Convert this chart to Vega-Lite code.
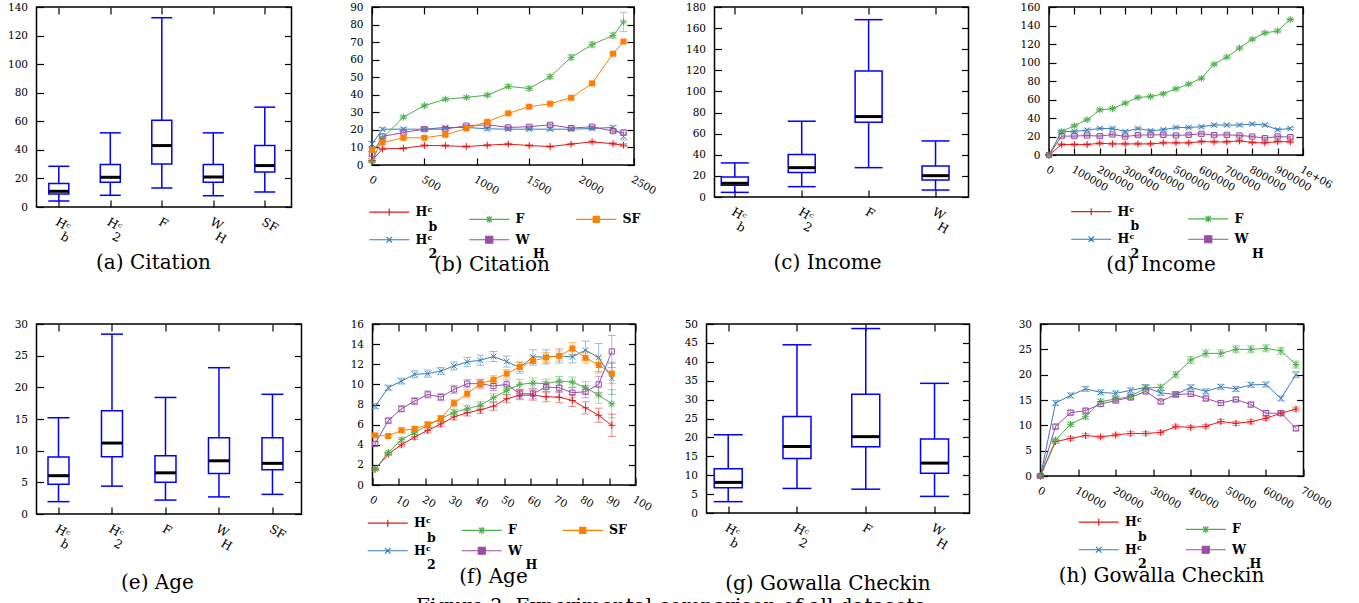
{
"$schema": "https://vega.github.io/schema/vega-lite/v6.json",
"background": "white",
"padding": {"left": 6.5, "top": 1, "right": 0, "bottom": -11},
"config": {
 "font": "DejaVu Serif",
 "view": {"stroke": "black", "strokeWidth": 1.5},
 "axis": {"domain": false, "grid": false, "ticks": true, "tickSize": -7, "tickColor": "black", "tickWidth": 1.2, "labelFont": "DejaVu Serif", "labelFontSize": 10.5, "labelColor": "black", "labelPadding": 16, "labelOverlap": false, "labelFlush": false, "labelBound": false},
 "legend": {"padding": 0},
 "title": {"font": "DejaVu Serif", "fontSize": 20, "fontWeight": "normal", "color": "black"}
},
"title": {"text": "Figure 3: Experimental comparison of all datasets", "orient": "bottom", "offset": 2, "anchor": "middle"},
"datasets": {
 "a": [
  {"m":"Hbc","lo":4.2,"q1":9.1,"md":11,"q3":16.4,"hi":28.5},
  {"m":"H2c","lo":8.2,"q1":17.3,"md":20.8,"q3":29.7,"hi":51.9},
  {"m":"F","lo":13.3,"q1":30.1,"md":43,"q3":60.8,"hi":132.5},
  {"m":"WH","lo":7.9,"q1":17.3,"md":21,"q3":29.7,"hi":51.9},
  {"m":"SF","lo":10.5,"q1":24.5,"md":29,"q3":43,"hi":69.9}
 ],
 "c": [
  {"m":"Hbc","lo":4.4,"q1":11.1,"md":13,"q3":19,"hi":32.3},
  {"m":"H2c","lo":9.8,"q1":23.1,"md":27.8,"q3":40.2,"hi":71.8},
  {"m":"F","lo":27.8,"q1":70.9,"md":76.2,"q3":119.3,"hi":168},
  {"m":"WH","lo":6.6,"q1":16.1,"md":20.2,"q3":29.4,"hi":53.1}
 ],
 "e": [
  {"m":"Hbc","lo":1.95,"q1":4.7,"md":6.05,"q3":9,"hi":15.2},
  {"m":"H2c","lo":4.4,"q1":9.05,"md":11.2,"q3":16.3,"hi":28.4},
  {"m":"F","lo":2.2,"q1":5,"md":6.5,"q3":9.2,"hi":18.4},
  {"m":"WH","lo":2.7,"q1":6.4,"md":8.4,"q3":12.05,"hi":23.1},
  {"m":"SF","lo":3.1,"q1":7,"md":8,"q3":12.05,"hi":18.9}
 ],
 "g": [
  {"m":"Hbc","lo":3,"q1":6.7,"md":8.1,"q3":11.7,"hi":20.7},
  {"m":"H2c","lo":6.5,"q1":14.4,"md":17.6,"q3":25.5,"hi":44.5},
  {"m":"F","lo":6.3,"q1":17.5,"md":20.2,"q3":31.4,"hi":48.8},
  {"m":"WH","lo":4.4,"q1":10.5,"md":13.2,"q3":19.6,"hi":34.3}
 ],
 "b": [
  {"s":"Hbc","x":0,"y":2.6,"e":1},{"s":"Hbc","x":100,"y":9.2,"e":0.5},{"s":"Hbc","x":300,"y":9.5,"e":0.5},{"s":"Hbc","x":500,"y":11.1,"e":0.5},{"s":"Hbc","x":700,"y":11,"e":0.5},{"s":"Hbc","x":900,"y":10.5,"e":0.5},{"s":"Hbc","x":1100,"y":11.3,"e":0.5},{"s":"Hbc","x":1300,"y":11.9,"e":0.5},{"s":"Hbc","x":1500,"y":11.1,"e":0.5},{"s":"Hbc","x":1700,"y":10.5,"e":0.5},{"s":"Hbc","x":1900,"y":11.9,"e":0.5},{"s":"Hbc","x":2100,"y":13.2,"e":0.6},{"s":"Hbc","x":2300,"y":12.1,"e":0.6},{"s":"Hbc","x":2400,"y":11.3,"e":0.8},
  {"s":"H2c","x":0,"y":11.9,"e":1.5},{"s":"H2c","x":100,"y":20.4,"e":0.8},{"s":"H2c","x":300,"y":20.4,"e":0.8},{"s":"H2c","x":500,"y":20.4,"e":0.8},{"s":"H2c","x":700,"y":21.4,"e":0.8},{"s":"H2c","x":900,"y":21.4,"e":0.8},{"s":"H2c","x":1100,"y":20.6,"e":0.8},{"s":"H2c","x":1300,"y":20.4,"e":0.8},{"s":"H2c","x":1500,"y":20.4,"e":0.8},{"s":"H2c","x":1700,"y":20.4,"e":0.8},{"s":"H2c","x":1900,"y":20.4,"e":0.8},{"s":"H2c","x":2100,"y":20.8,"e":0.8},{"s":"H2c","x":2300,"y":21.4,"e":0.9},{"s":"H2c","x":2400,"y":16.3,"e":2},
  {"s":"F","x":0,"y":2,"e":0.5},{"s":"F","x":100,"y":15.3,"e":1},{"s":"F","x":300,"y":27.3,"e":0.8},{"s":"F","x":500,"y":33.8,"e":0.8},{"s":"F","x":700,"y":37.5,"e":0.8},{"s":"F","x":900,"y":38.5,"e":0.8},{"s":"F","x":1100,"y":39.8,"e":0.8},{"s":"F","x":1300,"y":44.8,"e":1},{"s":"F","x":1500,"y":43.6,"e":1.2},{"s":"F","x":1700,"y":50.3,"e":1.3},{"s":"F","x":1900,"y":61.3,"e":1.5},{"s":"F","x":2100,"y":68.6,"e":1.5},{"s":"F","x":2300,"y":73.8,"e":1.5},{"s":"F","x":2400,"y":81.5,"e":5.5},
  {"s":"WH","x":0,"y":6.4,"e":1.3},{"s":"WH","x":100,"y":16.3,"e":1},{"s":"WH","x":300,"y":18.5,"e":0.8},{"s":"WH","x":500,"y":20.4,"e":0.8},{"s":"WH","x":700,"y":20.4,"e":0.8},{"s":"WH","x":900,"y":22.4,"e":0.8},{"s":"WH","x":1100,"y":22.9,"e":0.8},{"s":"WH","x":1300,"y":21.4,"e":0.8},{"s":"WH","x":1500,"y":21.8,"e":0.8},{"s":"WH","x":1700,"y":22.9,"e":0.8},{"s":"WH","x":1900,"y":21,"e":0.8},{"s":"WH","x":2100,"y":21.8,"e":0.8},{"s":"WH","x":2300,"y":19.3,"e":0.8},{"s":"WH","x":2400,"y":18.5,"e":1.5},
  {"s":"SF","x":0,"y":8.7,"e":1.3},{"s":"SF","x":100,"y":12.8,"e":0.8},{"s":"SF","x":300,"y":15.5,"e":0.6},{"s":"SF","x":500,"y":15.5,"e":0.6},{"s":"SF","x":700,"y":17.2,"e":0.6},{"s":"SF","x":900,"y":20.8,"e":0.6},{"s":"SF","x":1100,"y":24.6,"e":0.6},{"s":"SF","x":1300,"y":29.4,"e":0.6},{"s":"SF","x":1500,"y":33.2,"e":0.6},{"s":"SF","x":1700,"y":34.9,"e":0.6},{"s":"SF","x":1900,"y":38.3,"e":0.6},{"s":"SF","x":2100,"y":46.5,"e":0.8},{"s":"SF","x":2300,"y":63.4,"e":0.8},{"s":"SF","x":2400,"y":70.3,"e":0.8}
 ],
 "d": [
  {"s":"Hbc","x":0,"y":0,"e":0.5},{"s":"Hbc","x":50000,"y":11.3,"e":1.2},{"s":"Hbc","x":100000,"y":11.3,"e":1.2},{"s":"Hbc","x":150000,"y":11.3,"e":1.2},{"s":"Hbc","x":200000,"y":12.7,"e":1.2},{"s":"Hbc","x":250000,"y":12,"e":1.2},{"s":"Hbc","x":300000,"y":12,"e":1.2},{"s":"Hbc","x":350000,"y":12,"e":1.2},{"s":"Hbc","x":400000,"y":12,"e":1.2},{"s":"Hbc","x":450000,"y":13.1,"e":1.2},{"s":"Hbc","x":500000,"y":13.1,"e":1.2},{"s":"Hbc","x":550000,"y":13.1,"e":1.2},{"s":"Hbc","x":600000,"y":14.5,"e":1.2},{"s":"Hbc","x":650000,"y":14.2,"e":1.2},{"s":"Hbc","x":700000,"y":14.2,"e":1.2},{"s":"Hbc","x":750000,"y":15.3,"e":1.2},{"s":"Hbc","x":800000,"y":13.5,"e":1.2},{"s":"Hbc","x":850000,"y":13.1,"e":1.2},{"s":"Hbc","x":900000,"y":14.5,"e":1.2},{"s":"Hbc","x":950000,"y":14.2,"e":1.2},
  {"s":"H2c","x":0,"y":0,"e":0.5},{"s":"H2c","x":50000,"y":25.4,"e":1.3},{"s":"H2c","x":100000,"y":25.4,"e":1.3},{"s":"H2c","x":150000,"y":26.9,"e":1.3},{"s":"H2c","x":200000,"y":28.7,"e":1.3},{"s":"H2c","x":250000,"y":28.7,"e":1.3},{"s":"H2c","x":300000,"y":25.4,"e":1.3},{"s":"H2c","x":350000,"y":28.7,"e":1.3},{"s":"H2c","x":400000,"y":26.2,"e":1.3},{"s":"H2c","x":450000,"y":27.3,"e":1.3},{"s":"H2c","x":500000,"y":29.8,"e":1.3},{"s":"H2c","x":550000,"y":29.8,"e":1.3},{"s":"H2c","x":600000,"y":30.5,"e":1.3},{"s":"H2c","x":650000,"y":32.4,"e":1.3},{"s":"H2c","x":700000,"y":32.4,"e":1.3},{"s":"H2c","x":750000,"y":32.4,"e":1.3},{"s":"H2c","x":800000,"y":33.5,"e":1.3},{"s":"H2c","x":850000,"y":32.4,"e":1.3},{"s":"H2c","x":900000,"y":27.3,"e":1.3},{"s":"H2c","x":950000,"y":28.7,"e":1.3},
  {"s":"F","x":0,"y":0,"e":0.5},{"s":"F","x":50000,"y":25.4,"e":1.3},{"s":"F","x":100000,"y":31.6,"e":1.3},{"s":"F","x":150000,"y":38.2,"e":1.3},{"s":"F","x":200000,"y":48.7,"e":1.3},{"s":"F","x":250000,"y":50.2,"e":1.3},{"s":"F","x":300000,"y":56,"e":1.3},{"s":"F","x":350000,"y":62.2,"e":1.3},{"s":"F","x":400000,"y":63.2,"e":1.3},{"s":"F","x":450000,"y":66.2,"e":1.3},{"s":"F","x":500000,"y":71.6,"e":1.3},{"s":"F","x":550000,"y":76.7,"e":1.3},{"s":"F","x":600000,"y":82.9,"e":1.3},{"s":"F","x":650000,"y":98.1,"e":1.3},{"s":"F","x":700000,"y":105.8,"e":1.3},{"s":"F","x":750000,"y":115.6,"e":1.3},{"s":"F","x":800000,"y":125.1,"e":1.3},{"s":"F","x":850000,"y":132,"e":1.3},{"s":"F","x":900000,"y":134.1,"e":1.3},{"s":"F","x":950000,"y":146.5,"e":1.3},
  {"s":"WH","x":0,"y":0,"e":0.5},{"s":"WH","x":50000,"y":20.4,"e":1.3},{"s":"WH","x":100000,"y":20.4,"e":1.3},{"s":"WH","x":150000,"y":21.1,"e":1.3},{"s":"WH","x":200000,"y":20.4,"e":1.3},{"s":"WH","x":250000,"y":22.2,"e":1.3},{"s":"WH","x":300000,"y":20,"e":1.3},{"s":"WH","x":350000,"y":21.5,"e":1.3},{"s":"WH","x":400000,"y":21.8,"e":1.3},{"s":"WH","x":450000,"y":21.8,"e":1.3},{"s":"WH","x":500000,"y":21.1,"e":1.3},{"s":"WH","x":550000,"y":21.8,"e":1.3},{"s":"WH","x":600000,"y":22.9,"e":1.3},{"s":"WH","x":650000,"y":21.5,"e":1.3},{"s":"WH","x":700000,"y":21.8,"e":1.3},{"s":"WH","x":750000,"y":21.1,"e":1.3},{"s":"WH","x":800000,"y":20,"e":1.3},{"s":"WH","x":850000,"y":18.2,"e":1.3},{"s":"WH","x":900000,"y":20,"e":1.3},{"s":"WH","x":950000,"y":19.3,"e":1.3}
 ],
 "f": [
  {"s":"Hbc","x":1,"y":1.57,"e":0.1},{"s":"Hbc","x":6,"y":3.07,"e":0.15},{"s":"Hbc","x":11,"y":4,"e":0.2},{"s":"Hbc","x":16,"y":4.77,"e":0.25},{"s":"Hbc","x":21,"y":5.43,"e":0.25},{"s":"Hbc","x":26,"y":6.07,"e":0.25},{"s":"Hbc","x":31,"y":6.77,"e":0.3},{"s":"Hbc","x":36,"y":7.17,"e":0.3},{"s":"Hbc","x":41,"y":7.47,"e":0.35},{"s":"Hbc","x":46,"y":7.83,"e":0.4},{"s":"Hbc","x":51,"y":8.57,"e":0.4},{"s":"Hbc","x":56,"y":8.93,"e":0.45},{"s":"Hbc","x":61,"y":8.93,"e":0.5},{"s":"Hbc","x":66,"y":8.77,"e":0.5},{"s":"Hbc","x":71,"y":8.73,"e":0.55},{"s":"Hbc","x":76,"y":8.4,"e":0.6},{"s":"Hbc","x":81,"y":7.67,"e":0.6},{"s":"Hbc","x":86,"y":6.93,"e":0.7},{"s":"Hbc","x":91,"y":5.93,"e":1.1},
  {"s":"H2c","x":1,"y":7.83,"e":0.25},{"s":"H2c","x":6,"y":9.67,"e":0.25},{"s":"H2c","x":11,"y":10.33,"e":0.3},{"s":"H2c","x":16,"y":11,"e":0.35},{"s":"H2c","x":21,"y":11.07,"e":0.35},{"s":"H2c","x":26,"y":11.33,"e":0.35},{"s":"H2c","x":31,"y":11.83,"e":0.4},{"s":"H2c","x":36,"y":12.23,"e":0.45},{"s":"H2c","x":41,"y":12.4,"e":0.5},{"s":"H2c","x":46,"y":12.77,"e":0.5},{"s":"H2c","x":51,"y":12.27,"e":0.55},{"s":"H2c","x":56,"y":11.67,"e":0.55},{"s":"H2c","x":61,"y":12.73,"e":0.7},{"s":"H2c","x":66,"y":12.73,"e":0.7},{"s":"H2c","x":71,"y":12.83,"e":0.7},{"s":"H2c","x":76,"y":12.73,"e":0.6},{"s":"H2c","x":81,"y":13.4,"e":0.9},{"s":"H2c","x":86,"y":12.67,"e":1.4},{"s":"H2c","x":91,"y":10.6,"e":1.6},
  {"s":"F","x":1,"y":1.57,"e":0.1},{"s":"F","x":6,"y":3.23,"e":0.15},{"s":"F","x":11,"y":4.5,"e":0.2},{"s":"F","x":16,"y":5.23,"e":0.25},{"s":"F","x":21,"y":5.93,"e":0.25},{"s":"F","x":26,"y":6.57,"e":0.3},{"s":"F","x":31,"y":7.23,"e":0.3},{"s":"F","x":36,"y":7.57,"e":0.35},{"s":"F","x":41,"y":7.93,"e":0.35},{"s":"F","x":46,"y":8.67,"e":0.4},{"s":"F","x":51,"y":9.4,"e":0.45},{"s":"F","x":56,"y":10,"e":0.5},{"s":"F","x":61,"y":10.13,"e":0.5},{"s":"F","x":66,"y":10.07,"e":0.45},{"s":"F","x":71,"y":10.33,"e":0.45},{"s":"F","x":76,"y":10.23,"e":0.5},{"s":"F","x":81,"y":9.67,"e":0.6},{"s":"F","x":86,"y":8.93,"e":0.8},{"s":"F","x":91,"y":8.07,"e":1.4},
  {"s":"WH","x":1,"y":4.1,"e":0.2},{"s":"WH","x":6,"y":6.4,"e":0.25},{"s":"WH","x":11,"y":7.57,"e":0.3},{"s":"WH","x":16,"y":8.33,"e":0.35},{"s":"WH","x":21,"y":9,"e":0.35},{"s":"WH","x":26,"y":8.73,"e":0.35},{"s":"WH","x":31,"y":9.5,"e":0.4},{"s":"WH","x":36,"y":10.07,"e":0.4},{"s":"WH","x":41,"y":10.07,"e":0.45},{"s":"WH","x":46,"y":9.83,"e":0.45},{"s":"WH","x":51,"y":10,"e":0.45},{"s":"WH","x":56,"y":9.07,"e":0.45},{"s":"WH","x":61,"y":9.07,"e":0.5},{"s":"WH","x":66,"y":9.73,"e":0.5},{"s":"WH","x":71,"y":9.67,"e":0.5},{"s":"WH","x":76,"y":9.17,"e":0.5},{"s":"WH","x":81,"y":9.27,"e":0.6},{"s":"WH","x":86,"y":10,"e":0.8},{"s":"WH","x":91,"y":13.27,"e":1.6},
  {"s":"SF","x":1,"y":4.93,"e":0.2},{"s":"SF","x":6,"y":4.87,"e":0.2},{"s":"SF","x":11,"y":5.43,"e":0.25},{"s":"SF","x":16,"y":5.57,"e":0.25},{"s":"SF","x":21,"y":6,"e":0.3},{"s":"SF","x":26,"y":6.6,"e":0.3},{"s":"SF","x":31,"y":8.13,"e":0.35},{"s":"SF","x":36,"y":9.07,"e":0.4},{"s":"SF","x":41,"y":10.07,"e":0.4},{"s":"SF","x":46,"y":10.47,"e":0.4},{"s":"SF","x":51,"y":11.07,"e":0.4},{"s":"SF","x":56,"y":11.73,"e":0.45},{"s":"SF","x":61,"y":12.33,"e":0.45},{"s":"SF","x":66,"y":12.67,"e":0.5},{"s":"SF","x":71,"y":12.83,"e":0.5},{"s":"SF","x":76,"y":13.57,"e":0.6},{"s":"SF","x":81,"y":12.63,"e":0.5},{"s":"SF","x":86,"y":11.93,"e":0.8},{"s":"SF","x":91,"y":11.07,"e":1}
 ],
 "h": [
  {"s":"Hbc","x":0,"y":0,"e":0.2},{"s":"Hbc","x":4000,"y":6.8,"e":0.35},{"s":"Hbc","x":8000,"y":7.4,"e":0.35},{"s":"Hbc","x":12000,"y":8,"e":0.35},{"s":"Hbc","x":16000,"y":7.7,"e":0.35},{"s":"Hbc","x":20000,"y":8.1,"e":0.35},{"s":"Hbc","x":24000,"y":8.4,"e":0.35},{"s":"Hbc","x":28000,"y":8.4,"e":0.35},{"s":"Hbc","x":32000,"y":8.6,"e":0.35},{"s":"Hbc","x":36000,"y":9.75,"e":0.35},{"s":"Hbc","x":40000,"y":9.6,"e":0.35},{"s":"Hbc","x":44000,"y":9.8,"e":0.35},{"s":"Hbc","x":48000,"y":10.75,"e":0.4},{"s":"Hbc","x":52000,"y":10.4,"e":0.4},{"s":"Hbc","x":56000,"y":10.7,"e":0.4},{"s":"Hbc","x":60000,"y":11.4,"e":0.4},{"s":"Hbc","x":64000,"y":12.4,"e":0.4},{"s":"Hbc","x":68000,"y":13.2,"e":0.4},
  {"s":"H2c","x":0,"y":0,"e":0.2},{"s":"H2c","x":4000,"y":14.4,"e":0.5},{"s":"H2c","x":8000,"y":15.9,"e":0.5},{"s":"H2c","x":12000,"y":17.2,"e":0.5},{"s":"H2c","x":16000,"y":16.5,"e":0.5},{"s":"H2c","x":20000,"y":16.3,"e":0.5},{"s":"H2c","x":24000,"y":16.9,"e":0.5},{"s":"H2c","x":28000,"y":17.5,"e":0.5},{"s":"H2c","x":32000,"y":16.4,"e":0.5},{"s":"H2c","x":36000,"y":16.1,"e":0.5},{"s":"H2c","x":40000,"y":17.5,"e":0.5},{"s":"H2c","x":44000,"y":16.7,"e":0.5},{"s":"H2c","x":48000,"y":17.6,"e":0.5},{"s":"H2c","x":52000,"y":17.2,"e":0.5},{"s":"H2c","x":56000,"y":18,"e":0.5},{"s":"H2c","x":60000,"y":18.05,"e":0.5},{"s":"H2c","x":64000,"y":15.3,"e":0.5},{"s":"H2c","x":68000,"y":20,"e":0.6},
  {"s":"F","x":0,"y":0,"e":0.2},{"s":"F","x":4000,"y":7.1,"e":0.4},{"s":"F","x":8000,"y":10.2,"e":0.4},{"s":"F","x":12000,"y":11.7,"e":0.5},{"s":"F","x":16000,"y":14.7,"e":0.5},{"s":"F","x":20000,"y":15.2,"e":0.5},{"s":"F","x":24000,"y":15.7,"e":0.5},{"s":"F","x":28000,"y":17.4,"e":0.6},{"s":"F","x":32000,"y":17.5,"e":0.6},{"s":"F","x":36000,"y":20,"e":0.6},{"s":"F","x":40000,"y":22.9,"e":0.7},{"s":"F","x":44000,"y":24.2,"e":0.7},{"s":"F","x":48000,"y":24.2,"e":0.7},{"s":"F","x":52000,"y":25,"e":0.7},{"s":"F","x":56000,"y":25,"e":0.7},{"s":"F","x":60000,"y":25.2,"e":0.7},{"s":"F","x":64000,"y":24.7,"e":0.7},{"s":"F","x":68000,"y":22,"e":0.7},
  {"s":"WH","x":0,"y":0,"e":0.2},{"s":"WH","x":4000,"y":9.75,"e":0.45},{"s":"WH","x":8000,"y":12.5,"e":0.45},{"s":"WH","x":12000,"y":12.9,"e":0.45},{"s":"WH","x":16000,"y":14.2,"e":0.45},{"s":"WH","x":20000,"y":14.9,"e":0.45},{"s":"WH","x":24000,"y":15.5,"e":0.45},{"s":"WH","x":28000,"y":16.7,"e":0.45},{"s":"WH","x":32000,"y":14.7,"e":0.45},{"s":"WH","x":36000,"y":16.1,"e":0.45},{"s":"WH","x":40000,"y":16.2,"e":0.45},{"s":"WH","x":44000,"y":15.3,"e":0.45},{"s":"WH","x":48000,"y":14.4,"e":0.45},{"s":"WH","x":52000,"y":15.1,"e":0.45},{"s":"WH","x":56000,"y":14.1,"e":0.45},{"s":"WH","x":60000,"y":12.4,"e":0.45},{"s":"WH","x":64000,"y":12.4,"e":0.45},{"s":"WH","x":68000,"y":9.4,"e":0.45}
 ]
},
"resolve": {"scale": {"color": "independent", "shape": "independent"}},
"spacing": 42,
"vconcat": [
 {
  "hconcat": [
   {
    "width": 255, "height": 200,
    "data": {"name": "a"},
    "title": {"text": "(a) Citation", "orient": "bottom", "offset": 8, "dx": -10.5, "anchor": "middle", "frame": "group"},
    "layer": [
     {"mark": {"type": "rule", "color": "#0000ff", "strokeWidth": 1.5},
      "encoding": {
       "x": {"field": "m", "type": "nominal", "sort": null, "scale": {"type": "point", "padding": 0.476, "align": 0.455}, "axis": {"orient": "bottom", "title": null, "labelAngle": 30, "labelFontSize": 12, "labelLineHeight": 10, "labelExpr": "datum.value === 'Hbc' ? ['H\u1d9c', '\u200b\u00a0\u00a0\u00a0b'] : datum.value === 'H2c' ? ['H\u1d9c', '\u200b\u00a0\u00a0\u00a02'] : datum.value === 'WH' ? ['W', '\u200b\u00a0\u00a0\u00a0H'] : datum.value"}},
       "y": {"field": "lo", "type": "quantitative", "scale": {"domain": [0, 140], "nice": false, "zero": false}, "axis": {"orient": "left", "title": null, "values": [0,20,40,60,80,100,120,140]}},
       "y2": {"field": "q1"}}},
     {"mark": {"type": "rule", "color": "#0000ff", "strokeWidth": 1.5},
      "encoding": {
       "x": {"field": "m", "type": "nominal", "sort": null, "axis": {"orient": "top", "title": null, "labels": false}},
       "y": {"field": "q3", "type": "quantitative", "axis": {"orient": "right", "title": null, "labels": false, "values": [0,20,40,60,80,100,120,140]}},
       "y2": {"field": "hi"}}},
     {"mark": {"type": "bar", "width": 20, "fill": "white", "stroke": "#0000ff", "strokeWidth": 1.5},
      "encoding": {"x": {"field": "m", "type": "nominal", "sort": null, "axis": null}, "y": {"field": "q1", "type": "quantitative", "axis": null}, "y2": {"field": "q3"}}},
     {"mark": {"type": "point", "shape": "stroke", "size": 441, "color": "#0000ff", "strokeWidth": 1.5, "opacity": 1},
      "encoding": {"x": {"field": "m", "type": "nominal", "sort": null, "axis": null}, "y": {"field": "lo", "type": "quantitative", "axis": null}}},
     {"mark": {"type": "point", "shape": "stroke", "size": 441, "color": "#0000ff", "strokeWidth": 1.5, "opacity": 1},
      "encoding": {"x": {"field": "m", "type": "nominal", "sort": null, "axis": null}, "y": {"field": "hi", "type": "quantitative", "axis": null}}},
     {"mark": {"type": "point", "shape": "stroke", "size": 400, "color": "black", "strokeWidth": 3, "opacity": 1},
      "encoding": {"x": {"field": "m", "type": "nominal", "sort": null, "axis": null}, "y": {"field": "md", "type": "quantitative", "axis": null}}}
    ],
    "resolve": {"axis": {"x": "independent", "y": "independent"}}
   },
   {
    "width": 262, "height": 158,
    "data": {"name": "b"},
    "title": {"text": "(b) Citation", "orient": "bottom", "offset": -6.5, "dx": -11, "anchor": "middle", "frame": "group"},
    "layer": [
     {"mark": {"type": "point", "filled": false, "size": 49, "opacity": 0},
      "encoding": {
       "x": {"field": "x", "type": "quantitative", "axis": null},
       "y": {"field": "y", "type": "quantitative", "axis": null},
       "color": {"field": "s", "type": "nominal", "legend": {"orient": "none", "legendX": 11, "legendY": 198.5, "title": null, "columns": 3, "direction": "horizontal", "values": ["Hbc","F","SF","H2c","WH"], "labelExpr": "datum.value === 'Hbc' ? ['H\u1d9c', '\u200b\u00a0\u00a0\u00a0b'] : datum.value === 'H2c' ? ['H\u1d9c', '\u200b\u00a0\u00a0\u00a02'] : datum.value === 'WH' ? ['W', '\u200b\u00a0\u00a0\u00a0\u00a0H'] : datum.value", "labelFont": "DejaVu Serif", "labelFontWeight": "bold", "labelFontSize": 12.5, "labelColor": "black", "labelLimit": 0, "labelOffset": 20, "symbolSize": 100, "symbolStrokeWidth": 1.2, "symbolOpacity": 1, "columnPadding": 28, "rowPadding": 0}},
       "shape": {"field": "s", "type": "nominal", "scale": {"domain": ["Hbc","H2c","F","WH","SF"], "range": ["M-4,0H4M0,-0.7V0.7", "M-4,0H4M-0.56,-0.56L0.56,0.56M-0.56,0.56L0.56,-0.56", "M-4,0H4M0,-0.7V0.7M-0.52,-0.52L0.52,0.52M-0.52,0.52L0.52,-0.52", "M-4,0H-0.7M0.7,0H4M-0.7,-0.7H0.7V0.7H-0.7Z", "M-4,0H4M-0.6,-0.6H0.6V0.6H-0.6ZM-0.6,-0.3H0.6M-0.6,0.3H0.6"]}, "legend": {"orient": "none", "legendX": 11, "legendY": 198.5, "title": null, "columns": 3, "direction": "horizontal", "values": ["Hbc","F","SF","H2c","WH"], "labelExpr": "datum.value === 'Hbc' ? ['H\u1d9c', '\u200b\u00a0\u00a0\u00a0b'] : datum.value === 'H2c' ? ['H\u1d9c', '\u200b\u00a0\u00a0\u00a02'] : datum.value === 'WH' ? ['W', '\u200b\u00a0\u00a0\u00a0\u00a0H'] : datum.value", "labelFont": "DejaVu Serif", "labelFontWeight": "bold", "labelFontSize": 12.5, "labelColor": "black", "labelLimit": 0, "labelOffset": 20, "symbolSize": 100, "symbolStrokeWidth": 1.2, "symbolOpacity": 1, "columnPadding": 28, "rowPadding": 0}}}},
     {"mark": {"type": "errorbar", "ticks": true, "size": 8, "thickness": 1, "opacity": 0.5},
      "encoding": {
       "x": {"field": "x", "type": "quantitative", "scale": {"domain": [0, 2500], "nice": false, "zero": false}, "axis": {"orient": "bottom", "title": null, "values": [0,500,1000,1500,2000,2500], "format": "d", "labelAngle": 30}},
       "y": {"field": "y", "type": "quantitative", "scale": {"domain": [0, 90], "nice": false, "zero": false}, "axis": {"orient": "left", "title": null, "values": [0,10,20,30,40,50,60,70,80,90]}},
       "yError": {"field": "e"},
       "color": {"field": "s", "type": "nominal", "scale": {"domain": ["Hbc","H2c","F","WH","SF"], "range": ["#e41a1c","#377eb8","#4daf4a","#984ea3","#ff7f00"]}}}},
     {"mark": {"type": "line", "strokeWidth": 1},
      "encoding": {
       "x": {"field": "x", "type": "quantitative", "axis": {"orient": "top", "title": null, "labels": false, "values": [0,500,1000,1500,2000,2500]}},
       "y": {"field": "y", "type": "quantitative", "axis": {"orient": "right", "title": null, "labels": false, "values": [0,10,20,30,40,50,60,70,80,90]}},
       "color": {"field": "s", "type": "nominal"}}},
     {"transform": [{"filter": "datum.s === 'Hbc'"}], "mark": {"type": "point", "shape": "M-1,0H1M0,-1V1", "size": 49, "filled": false, "color": "#e41a1c", "strokeWidth": 1, "opacity": 1},
      "encoding": {"x": {"field": "x", "type": "quantitative", "axis": null}, "y": {"field": "y", "type": "quantitative", "axis": null}}},
     {"transform": [{"filter": "datum.s === 'H2c'"}], "mark": {"type": "point", "shape": "M-0.8,-0.8L0.8,0.8M-0.8,0.8L0.8,-0.8", "size": 49, "filled": false, "color": "#377eb8", "strokeWidth": 1, "opacity": 1},
      "encoding": {"x": {"field": "x", "type": "quantitative", "axis": null}, "y": {"field": "y", "type": "quantitative", "axis": null}}},
     {"transform": [{"filter": "datum.s === 'F'"}], "mark": {"type": "point", "shape": "M-1,0H1M0,-1V1M-0.75,-0.75L0.75,0.75M-0.75,0.75L0.75,-0.75", "size": 49, "filled": false, "color": "#4daf4a", "strokeWidth": 1, "opacity": 1},
      "encoding": {"x": {"field": "x", "type": "quantitative", "axis": null}, "y": {"field": "y", "type": "quantitative", "axis": null}}},
     {"transform": [{"filter": "datum.s === 'WH'"}], "mark": {"type": "point", "shape": "M-0.75,-0.75H0.75V0.75H-0.75Z", "size": 49, "filled": false, "color": "#984ea3", "strokeWidth": 1, "opacity": 1},
      "encoding": {"x": {"field": "x", "type": "quantitative", "axis": null}, "y": {"field": "y", "type": "quantitative", "axis": null}}},
     {"transform": [{"filter": "datum.s === 'SF'"}], "mark": {"type": "point", "shape": "square", "size": 36, "filled": true, "color": "#ff7f00", "opacity": 1},
      "encoding": {"x": {"field": "x", "type": "quantitative", "axis": null}, "y": {"field": "y", "type": "quantitative", "axis": null}}}
    ],
    "resolve": {"axis": {"x": "independent", "y": "independent"}}
   },
   {
    "width": 254, "height": 190,
    "data": {"name": "c"},
    "title": {"text": "(c) Income", "orient": "bottom", "offset": 18, "dx": -14, "anchor": "middle", "frame": "group"},
    "layer": [
     {"mark": {"type": "rule", "color": "#0000ff", "strokeWidth": 1.5},
      "encoding": {
       "x": {"field": "m", "type": "nominal", "sort": null, "scale": {"type": "point", "padding": 0.398, "align": 0.381}, "axis": {"orient": "bottom", "title": null, "labelAngle": 30, "labelFontSize": 12, "labelLineHeight": 10, "labelExpr": "datum.value === 'Hbc' ? ['H\u1d9c', '\u200b\u00a0\u00a0\u00a0b'] : datum.value === 'H2c' ? ['H\u1d9c', '\u200b\u00a0\u00a0\u00a02'] : datum.value === 'WH' ? ['W', '\u200b\u00a0\u00a0\u00a0H'] : datum.value"}},
       "y": {"field": "lo", "type": "quantitative", "scale": {"domain": [0, 180], "nice": false, "zero": false}, "axis": {"orient": "left", "title": null, "values": [0,20,40,60,80,100,120,140,160,180]}},
       "y2": {"field": "q1"}}},
     {"mark": {"type": "rule", "color": "#0000ff", "strokeWidth": 1.5},
      "encoding": {
       "x": {"field": "m", "type": "nominal", "sort": null, "axis": {"orient": "top", "title": null, "labels": false}},
       "y": {"field": "q3", "type": "quantitative", "axis": {"orient": "right", "title": null, "labels": false, "values": [0,20,40,60,80,100,120,140,160,180]}},
       "y2": {"field": "hi"}}},
     {"mark": {"type": "bar", "width": 27, "fill": "white", "stroke": "#0000ff", "strokeWidth": 1.5},
      "encoding": {"x": {"field": "m", "type": "nominal", "sort": null, "axis": null}, "y": {"field": "q1", "type": "quantitative", "axis": null}, "y2": {"field": "q3"}}},
     {"mark": {"type": "point", "shape": "stroke", "size": 784, "color": "#0000ff", "strokeWidth": 1.5, "opacity": 1},
      "encoding": {"x": {"field": "m", "type": "nominal", "sort": null, "axis": null}, "y": {"field": "lo", "type": "quantitative", "axis": null}}},
     {"mark": {"type": "point", "shape": "stroke", "size": 784, "color": "#0000ff", "strokeWidth": 1.5, "opacity": 1},
      "encoding": {"x": {"field": "m", "type": "nominal", "sort": null, "axis": null}, "y": {"field": "hi", "type": "quantitative", "axis": null}}},
     {"mark": {"type": "point", "shape": "stroke", "size": 729, "color": "black", "strokeWidth": 3, "opacity": 1},
      "encoding": {"x": {"field": "m", "type": "nominal", "sort": null, "axis": null}, "y": {"field": "md", "type": "quantitative", "axis": null}}}
    ],
    "resolve": {"axis": {"x": "independent", "y": "independent"}}
   },
   {
    "width": 254, "height": 148,
    "data": {"name": "d"},
    "title": {"text": "(d) Income", "orient": "bottom", "offset": -6, "dx": -15, "anchor": "middle", "frame": "group"},
    "layer": [
     {"mark": {"type": "point", "filled": false, "size": 49, "opacity": 0},
      "encoding": {
       "x": {"field": "x", "type": "quantitative", "axis": null},
       "y": {"field": "y", "type": "quantitative", "axis": null},
       "color": {"field": "s", "type": "nominal", "legend": {"orient": "none", "legendX": 36, "legendY": 198, "title": null, "columns": 2, "direction": "horizontal", "values": ["Hbc","F","H2c","WH"], "labelExpr": "datum.value === 'Hbc' ? ['H\u1d9c', '\u200b\u00a0\u00a0\u00a0b'] : datum.value === 'H2c' ? ['H\u1d9c', '\u200b\u00a0\u00a0\u00a02'] : datum.value === 'WH' ? ['W', '\u200b\u00a0\u00a0\u00a0\u00a0H'] : datum.value", "labelFont": "DejaVu Serif", "labelFontWeight": "bold", "labelFontSize": 12.5, "labelColor": "black", "labelLimit": 0, "labelOffset": 20, "symbolSize": 100, "symbolStrokeWidth": 1.2, "symbolOpacity": 1, "columnPadding": 45, "rowPadding": 0}},
       "shape": {"field": "s", "type": "nominal", "scale": {"domain": ["Hbc","H2c","F","WH"], "range": ["M-4,0H4M0,-0.7V0.7", "M-4,0H4M-0.56,-0.56L0.56,0.56M-0.56,0.56L0.56,-0.56", "M-4,0H4M0,-0.7V0.7M-0.52,-0.52L0.52,0.52M-0.52,0.52L0.52,-0.52", "M-4,0H-0.7M0.7,0H4M-0.7,-0.7H0.7V0.7H-0.7Z"]}, "legend": {"orient": "none", "legendX": 36, "legendY": 198, "title": null, "columns": 2, "direction": "horizontal", "values": ["Hbc","F","H2c","WH"], "labelExpr": "datum.value === 'Hbc' ? ['H\u1d9c', '\u200b\u00a0\u00a0\u00a0b'] : datum.value === 'H2c' ? ['H\u1d9c', '\u200b\u00a0\u00a0\u00a02'] : datum.value === 'WH' ? ['W', '\u200b\u00a0\u00a0\u00a0\u00a0H'] : datum.value", "labelFont": "DejaVu Serif", "labelFontWeight": "bold", "labelFontSize": 12.5, "labelColor": "black", "labelLimit": 0, "labelOffset": 20, "symbolSize": 100, "symbolStrokeWidth": 1.2, "symbolOpacity": 1, "columnPadding": 45, "rowPadding": 0}}}},
     {"mark": {"type": "errorbar", "ticks": true, "size": 8, "thickness": 1, "opacity": 0.5},
      "encoding": {
       "x": {"field": "x", "type": "quantitative", "scale": {"domain": [0, 1000000], "nice": false, "zero": false}, "axis": {"orient": "bottom", "title": null, "values": [0,100000,200000,300000,400000,500000,600000,700000,800000,900000,1000000], "labelExpr": "datum.value >= 1000000 ? '1e+06' : format(datum.value, 'd')", "labelAngle": 30}},
       "y": {"field": "y", "type": "quantitative", "scale": {"domain": [0, 160], "nice": false, "zero": false}, "axis": {"orient": "left", "title": null, "values": [0,20,40,60,80,100,120,140,160]}},
       "yError": {"field": "e"},
       "color": {"field": "s", "type": "nominal", "scale": {"domain": ["Hbc","H2c","F","WH"], "range": ["#e41a1c","#377eb8","#4daf4a","#984ea3"]}}}},
     {"mark": {"type": "line", "strokeWidth": 1},
      "encoding": {
       "x": {"field": "x", "type": "quantitative", "axis": {"orient": "top", "title": null, "labels": false, "values": [0,100000,200000,300000,400000,500000,600000,700000,800000,900000,1000000]}},
       "y": {"field": "y", "type": "quantitative", "axis": {"orient": "right", "title": null, "labels": false, "values": [0,20,40,60,80,100,120,140,160]}},
       "color": {"field": "s", "type": "nominal"}}},
     {"transform": [{"filter": "datum.s === 'Hbc'"}], "mark": {"type": "point", "shape": "M-1,0H1M0,-1V1", "size": 49, "filled": false, "color": "#e41a1c", "strokeWidth": 1, "opacity": 1},
      "encoding": {"x": {"field": "x", "type": "quantitative", "axis": null}, "y": {"field": "y", "type": "quantitative", "axis": null}}},
     {"transform": [{"filter": "datum.s === 'H2c'"}], "mark": {"type": "point", "shape": "M-0.8,-0.8L0.8,0.8M-0.8,0.8L0.8,-0.8", "size": 49, "filled": false, "color": "#377eb8", "strokeWidth": 1, "opacity": 1},
      "encoding": {"x": {"field": "x", "type": "quantitative", "axis": null}, "y": {"field": "y", "type": "quantitative", "axis": null}}},
     {"transform": [{"filter": "datum.s === 'F'"}], "mark": {"type": "point", "shape": "M-1,0H1M0,-1V1M-0.75,-0.75L0.75,0.75M-0.75,0.75L0.75,-0.75", "size": 49, "filled": false, "color": "#4daf4a", "strokeWidth": 1, "opacity": 1},
      "encoding": {"x": {"field": "x", "type": "quantitative", "axis": null}, "y": {"field": "y", "type": "quantitative", "axis": null}}},
     {"transform": [{"filter": "datum.s === 'WH'"}], "mark": {"type": "point", "shape": "M-0.75,-0.75H0.75V0.75H-0.75Z", "size": 49, "filled": false, "color": "#984ea3", "strokeWidth": 1, "opacity": 1},
      "encoding": {"x": {"field": "x", "type": "quantitative", "axis": null}, "y": {"field": "y", "type": "quantitative", "axis": null}}}
    ],
    "resolve": {"axis": {"x": "independent", "y": "independent"}}
   }
  ],
  "spacing": 80.5, "bounds": "flush",
  "resolve": {"scale": {"color": "independent", "shape": "independent"}}
 },
 {
  "hconcat": [
   {
    "width": 265, "height": 190,
    "data": {"name": "e"},
    "title": {"text": "(e) Age", "orient": "bottom", "offset": 21, "dx": -11.5, "anchor": "middle", "frame": "group"},
    "layer": [
     {"mark": {"type": "rule", "color": "#0000ff", "strokeWidth": 1.5},
      "encoding": {
       "x": {"field": "m", "type": "nominal", "sort": null, "scale": {"type": "point", "padding": 0.477, "align": 0.431}, "axis": {"orient": "bottom", "title": null, "labelAngle": 30, "labelFontSize": 12, "labelLineHeight": 10, "labelExpr": "datum.value === 'Hbc' ? ['H\u1d9c', '\u200b\u00a0\u00a0\u00a0b'] : datum.value === 'H2c' ? ['H\u1d9c', '\u200b\u00a0\u00a0\u00a02'] : datum.value === 'WH' ? ['W', '\u200b\u00a0\u00a0\u00a0H'] : datum.value"}},
       "y": {"field": "lo", "type": "quantitative", "scale": {"domain": [0, 30], "nice": false, "zero": false}, "axis": {"orient": "left", "title": null, "values": [0,5,10,15,20,25,30]}},
       "y2": {"field": "q1"}}},
     {"mark": {"type": "rule", "color": "#0000ff", "strokeWidth": 1.5},
      "encoding": {
       "x": {"field": "m", "type": "nominal", "sort": null, "axis": {"orient": "top", "title": null, "labels": false}},
       "y": {"field": "q3", "type": "quantitative", "axis": {"orient": "right", "title": null, "labels": false, "values": [0,5,10,15,20,25,30]}},
       "y2": {"field": "hi"}}},
     {"mark": {"type": "bar", "width": 21, "fill": "white", "stroke": "#0000ff", "strokeWidth": 1.5},
      "encoding": {"x": {"field": "m", "type": "nominal", "sort": null, "axis": null}, "y": {"field": "q1", "type": "quantitative", "axis": null}, "y2": {"field": "q3"}}},
     {"mark": {"type": "point", "shape": "stroke", "size": 484, "color": "#0000ff", "strokeWidth": 1.5, "opacity": 1},
      "encoding": {"x": {"field": "m", "type": "nominal", "sort": null, "axis": null}, "y": {"field": "lo", "type": "quantitative", "axis": null}}},
     {"mark": {"type": "point", "shape": "stroke", "size": 484, "color": "#0000ff", "strokeWidth": 1.5, "opacity": 1},
      "encoding": {"x": {"field": "m", "type": "nominal", "sort": null, "axis": null}, "y": {"field": "hi", "type": "quantitative", "axis": null}}},
     {"mark": {"type": "point", "shape": "stroke", "size": 441, "color": "black", "strokeWidth": 3, "opacity": 1},
      "encoding": {"x": {"field": "m", "type": "nominal", "sort": null, "axis": null}, "y": {"field": "md", "type": "quantitative", "axis": null}}}
    ],
    "resolve": {"axis": {"x": "independent", "y": "independent"}}
   },
   {
    "width": 263, "height": 161,
    "data": {"name": "f"},
    "title": {"text": "(f) Age", "orient": "bottom", "offset": -6, "dx": -10.5, "anchor": "middle", "frame": "group"},
    "layer": [
     {"mark": {"type": "point", "filled": false, "size": 49, "opacity": 0},
      "encoding": {
       "x": {"field": "x", "type": "quantitative", "axis": null},
       "y": {"field": "y", "type": "quantitative", "axis": null},
       "color": {"field": "s", "type": "nominal", "legend": {"orient": "none", "legendX": 9, "legendY": 192.5, "title": null, "columns": 3, "direction": "horizontal", "values": ["Hbc","F","SF","H2c","WH"], "labelExpr": "datum.value === 'Hbc' ? ['H\u1d9c', '\u200b\u00a0\u00a0\u00a0b'] : datum.value === 'H2c' ? ['H\u1d9c', '\u200b\u00a0\u00a0\u00a02'] : datum.value === 'WH' ? ['W', '\u200b\u00a0\u00a0\u00a0\u00a0H'] : datum.value", "labelFont": "DejaVu Serif", "labelFontWeight": "bold", "labelFontSize": 12.5, "labelColor": "black", "labelLimit": 0, "labelOffset": 20, "symbolSize": 100, "symbolStrokeWidth": 1.2, "symbolOpacity": 1, "columnPadding": 22, "rowPadding": 0}},
       "shape": {"field": "s", "type": "nominal", "scale": {"domain": ["Hbc","H2c","F","WH","SF"], "range": ["M-4,0H4M0,-0.7V0.7", "M-4,0H4M-0.56,-0.56L0.56,0.56M-0.56,0.56L0.56,-0.56", "M-4,0H4M0,-0.7V0.7M-0.52,-0.52L0.52,0.52M-0.52,0.52L0.52,-0.52", "M-4,0H-0.7M0.7,0H4M-0.7,-0.7H0.7V0.7H-0.7Z", "M-4,0H4M-0.6,-0.6H0.6V0.6H-0.6ZM-0.6,-0.3H0.6M-0.6,0.3H0.6"]}, "legend": {"orient": "none", "legendX": 9, "legendY": 192.5, "title": null, "columns": 3, "direction": "horizontal", "values": ["Hbc","F","SF","H2c","WH"], "labelExpr": "datum.value === 'Hbc' ? ['H\u1d9c', '\u200b\u00a0\u00a0\u00a0b'] : datum.value === 'H2c' ? ['H\u1d9c', '\u200b\u00a0\u00a0\u00a02'] : datum.value === 'WH' ? ['W', '\u200b\u00a0\u00a0\u00a0\u00a0H'] : datum.value", "labelFont": "DejaVu Serif", "labelFontWeight": "bold", "labelFontSize": 12.5, "labelColor": "black", "labelLimit": 0, "labelOffset": 20, "symbolSize": 100, "symbolStrokeWidth": 1.2, "symbolOpacity": 1, "columnPadding": 22, "rowPadding": 0}}}},
     {"mark": {"type": "errorbar", "ticks": true, "size": 8, "thickness": 1, "opacity": 0.5},
      "encoding": {
       "x": {"field": "x", "type": "quantitative", "scale": {"domain": [0, 100], "nice": false, "zero": false}, "axis": {"orient": "bottom", "title": null, "values": [0,10,20,30,40,50,60,70,80,90,100], "format": "d", "labelAngle": 30}},
       "y": {"field": "y", "type": "quantitative", "scale": {"domain": [0, 16], "nice": false, "zero": false}, "axis": {"orient": "left", "title": null, "values": [0,2,4,6,8,10,12,14,16]}},
       "yError": {"field": "e"},
       "color": {"field": "s", "type": "nominal", "scale": {"domain": ["Hbc","H2c","F","WH","SF"], "range": ["#e41a1c","#377eb8","#4daf4a","#984ea3","#ff7f00"]}}}},
     {"mark": {"type": "line", "strokeWidth": 1},
      "encoding": {
       "x": {"field": "x", "type": "quantitative", "axis": {"orient": "top", "title": null, "labels": false, "values": [0,10,20,30,40,50,60,70,80,90,100]}},
       "y": {"field": "y", "type": "quantitative", "axis": {"orient": "right", "title": null, "labels": false, "values": [0,2,4,6,8,10,12,14,16]}},
       "color": {"field": "s", "type": "nominal"}}},
     {"transform": [{"filter": "datum.s === 'Hbc'"}], "mark": {"type": "point", "shape": "M-1,0H1M0,-1V1", "size": 49, "filled": false, "color": "#e41a1c", "strokeWidth": 1, "opacity": 1},
      "encoding": {"x": {"field": "x", "type": "quantitative", "axis": null}, "y": {"field": "y", "type": "quantitative", "axis": null}}},
     {"transform": [{"filter": "datum.s === 'H2c'"}], "mark": {"type": "point", "shape": "M-0.8,-0.8L0.8,0.8M-0.8,0.8L0.8,-0.8", "size": 49, "filled": false, "color": "#377eb8", "strokeWidth": 1, "opacity": 1},
      "encoding": {"x": {"field": "x", "type": "quantitative", "axis": null}, "y": {"field": "y", "type": "quantitative", "axis": null}}},
     {"transform": [{"filter": "datum.s === 'F'"}], "mark": {"type": "point", "shape": "M-1,0H1M0,-1V1M-0.75,-0.75L0.75,0.75M-0.75,0.75L0.75,-0.75", "size": 49, "filled": false, "color": "#4daf4a", "strokeWidth": 1, "opacity": 1},
      "encoding": {"x": {"field": "x", "type": "quantitative", "axis": null}, "y": {"field": "y", "type": "quantitative", "axis": null}}},
     {"transform": [{"filter": "datum.s === 'WH'"}], "mark": {"type": "point", "shape": "M-0.75,-0.75H0.75V0.75H-0.75Z", "size": 49, "filled": false, "color": "#984ea3", "strokeWidth": 1, "opacity": 1},
      "encoding": {"x": {"field": "x", "type": "quantitative", "axis": null}, "y": {"field": "y", "type": "quantitative", "axis": null}}},
     {"transform": [{"filter": "datum.s === 'SF'"}], "mark": {"type": "point", "shape": "square", "size": 36, "filled": true, "color": "#ff7f00", "opacity": 1},
      "encoding": {"x": {"field": "x", "type": "quantitative", "axis": null}, "y": {"field": "y", "type": "quantitative", "axis": null}}}
    ],
    "resolve": {"axis": {"x": "independent", "y": "independent"}}
   },
   {
    "width": 263, "height": 189,
    "data": {"name": "g"},
    "title": {"text": "(g) Gowalla Checkin", "orient": "bottom", "offset": 23, "dx": -10, "anchor": "middle", "frame": "group"},
    "layer": [
     {"mark": {"type": "rule", "color": "#0000ff", "strokeWidth": 1.5},
      "encoding": {
       "x": {"field": "m", "type": "nominal", "sort": null, "scale": {"type": "point", "padding": 0.412, "align": 0.383}, "axis": {"orient": "bottom", "title": null, "labelAngle": 30, "labelFontSize": 12, "labelLineHeight": 10, "labelExpr": "datum.value === 'Hbc' ? ['H\u1d9c', '\u200b\u00a0\u00a0\u00a0b'] : datum.value === 'H2c' ? ['H\u1d9c', '\u200b\u00a0\u00a0\u00a02'] : datum.value === 'WH' ? ['W', '\u200b\u00a0\u00a0\u00a0H'] : datum.value"}},
       "y": {"field": "lo", "type": "quantitative", "scale": {"domain": [0, 50], "nice": false, "zero": false}, "axis": {"orient": "left", "title": null, "values": [0,5,10,15,20,25,30,35,40,45,50]}},
       "y2": {"field": "q1"}}},
     {"mark": {"type": "rule", "color": "#0000ff", "strokeWidth": 1.5},
      "encoding": {
       "x": {"field": "m", "type": "nominal", "sort": null, "axis": {"orient": "top", "title": null, "labels": false}},
       "y": {"field": "q3", "type": "quantitative", "axis": {"orient": "right", "title": null, "labels": false, "values": [0,5,10,15,20,25,30,35,40,45,50]}},
       "y2": {"field": "hi"}}},
     {"mark": {"type": "bar", "width": 28, "fill": "white", "stroke": "#0000ff", "strokeWidth": 1.5},
      "encoding": {"x": {"field": "m", "type": "nominal", "sort": null, "axis": null}, "y": {"field": "q1", "type": "quantitative", "axis": null}, "y2": {"field": "q3"}}},
     {"mark": {"type": "point", "shape": "stroke", "size": 841, "color": "#0000ff", "strokeWidth": 1.5, "opacity": 1},
      "encoding": {"x": {"field": "m", "type": "nominal", "sort": null, "axis": null}, "y": {"field": "lo", "type": "quantitative", "axis": null}}},
     {"mark": {"type": "point", "shape": "stroke", "size": 841, "color": "#0000ff", "strokeWidth": 1.5, "opacity": 1},
      "encoding": {"x": {"field": "m", "type": "nominal", "sort": null, "axis": null}, "y": {"field": "hi", "type": "quantitative", "axis": null}}},
     {"mark": {"type": "point", "shape": "stroke", "size": 784, "color": "black", "strokeWidth": 3, "opacity": 1},
      "encoding": {"x": {"field": "m", "type": "nominal", "sort": null, "axis": null}, "y": {"field": "md", "type": "quantitative", "axis": null}}}
    ],
    "resolve": {"axis": {"x": "independent", "y": "independent"}}
   },
   {
    "width": 263, "height": 152,
    "data": {"name": "h"},
    "title": {"text": "(h) Gowalla Checkin", "orient": "bottom", "offset": -6, "dx": -10.5, "anchor": "middle", "frame": "group"},
    "layer": [
     {"mark": {"type": "point", "filled": false, "size": 49, "opacity": 0},
      "encoding": {
       "x": {"field": "x", "type": "quantitative", "axis": null},
       "y": {"field": "y", "type": "quantitative", "axis": null},
       "color": {"field": "s", "type": "nominal", "legend": {"orient": "none", "legendX": 52, "legendY": 191.5, "title": null, "columns": 2, "direction": "horizontal", "values": ["Hbc","F","H2c","WH"], "labelExpr": "datum.value === 'Hbc' ? ['H\u1d9c', '\u200b\u00a0\u00a0\u00a0b'] : datum.value === 'H2c' ? ['H\u1d9c', '\u200b\u00a0\u00a0\u00a02'] : datum.value === 'WH' ? ['W', '\u200b\u00a0\u00a0\u00a0\u00a0H'] : datum.value", "labelFont": "DejaVu Serif", "labelFontWeight": "bold", "labelFontSize": 12.5, "labelColor": "black", "labelLimit": 0, "labelOffset": 20, "symbolSize": 100, "symbolStrokeWidth": 1.2, "symbolOpacity": 1, "columnPadding": 35, "rowPadding": 0}},
       "shape": {"field": "s", "type": "nominal", "scale": {"domain": ["Hbc","H2c","F","WH"], "range": ["M-4,0H4M0,-0.7V0.7", "M-4,0H4M-0.56,-0.56L0.56,0.56M-0.56,0.56L0.56,-0.56", "M-4,0H4M0,-0.7V0.7M-0.52,-0.52L0.52,0.52M-0.52,0.52L0.52,-0.52", "M-4,0H-0.7M0.7,0H4M-0.7,-0.7H0.7V0.7H-0.7Z"]}, "legend": {"orient": "none", "legendX": 52, "legendY": 191.5, "title": null, "columns": 2, "direction": "horizontal", "values": ["Hbc","F","H2c","WH"], "labelExpr": "datum.value === 'Hbc' ? ['H\u1d9c', '\u200b\u00a0\u00a0\u00a0b'] : datum.value === 'H2c' ? ['H\u1d9c', '\u200b\u00a0\u00a0\u00a02'] : datum.value === 'WH' ? ['W', '\u200b\u00a0\u00a0\u00a0\u00a0H'] : datum.value", "labelFont": "DejaVu Serif", "labelFontWeight": "bold", "labelFontSize": 12.5, "labelColor": "black", "labelLimit": 0, "labelOffset": 20, "symbolSize": 100, "symbolStrokeWidth": 1.2, "symbolOpacity": 1, "columnPadding": 35, "rowPadding": 0}}}},
     {"mark": {"type": "errorbar", "ticks": true, "size": 8, "thickness": 1, "opacity": 0.5},
      "encoding": {
       "x": {"field": "x", "type": "quantitative", "scale": {"domain": [0, 70000], "nice": false, "zero": false}, "axis": {"orient": "bottom", "title": null, "values": [0,10000,20000,30000,40000,50000,60000,70000], "format": "d", "labelAngle": 30}},
       "y": {"field": "y", "type": "quantitative", "scale": {"domain": [0, 30], "nice": false, "zero": false}, "axis": {"orient": "left", "title": null, "values": [0,5,10,15,20,25,30]}},
       "yError": {"field": "e"},
       "color": {"field": "s", "type": "nominal", "scale": {"domain": ["Hbc","H2c","F","WH"], "range": ["#e41a1c","#377eb8","#4daf4a","#984ea3"]}}}},
     {"mark": {"type": "line", "strokeWidth": 1},
      "encoding": {
       "x": {"field": "x", "type": "quantitative", "axis": {"orient": "top", "title": null, "labels": false, "values": [0,10000,20000,30000,40000,50000,60000,70000]}},
       "y": {"field": "y", "type": "quantitative", "axis": {"orient": "right", "title": null, "labels": false, "values": [0,5,10,15,20,25,30]}},
       "color": {"field": "s", "type": "nominal"}}},
     {"transform": [{"filter": "datum.s === 'Hbc'"}], "mark": {"type": "point", "shape": "M-1,0H1M0,-1V1", "size": 49, "filled": false, "color": "#e41a1c", "strokeWidth": 1, "opacity": 1},
      "encoding": {"x": {"field": "x", "type": "quantitative", "axis": null}, "y": {"field": "y", "type": "quantitative", "axis": null}}},
     {"transform": [{"filter": "datum.s === 'H2c'"}], "mark": {"type": "point", "shape": "M-0.8,-0.8L0.8,0.8M-0.8,0.8L0.8,-0.8", "size": 49, "filled": false, "color": "#377eb8", "strokeWidth": 1, "opacity": 1},
      "encoding": {"x": {"field": "x", "type": "quantitative", "axis": null}, "y": {"field": "y", "type": "quantitative", "axis": null}}},
     {"transform": [{"filter": "datum.s === 'F'"}], "mark": {"type": "point", "shape": "M-1,0H1M0,-1V1M-0.75,-0.75L0.75,0.75M-0.75,0.75L0.75,-0.75", "size": 49, "filled": false, "color": "#4daf4a", "strokeWidth": 1, "opacity": 1},
      "encoding": {"x": {"field": "x", "type": "quantitative", "axis": null}, "y": {"field": "y", "type": "quantitative", "axis": null}}},
     {"transform": [{"filter": "datum.s === 'WH'"}], "mark": {"type": "point", "shape": "M-0.75,-0.75H0.75V0.75H-0.75Z", "size": 49, "filled": false, "color": "#984ea3", "strokeWidth": 1, "opacity": 1},
      "encoding": {"x": {"field": "x", "type": "quantitative", "axis": null}, "y": {"field": "y", "type": "quantitative", "axis": null}}}
    ],
    "resolve": {"axis": {"x": "independent", "y": "independent"}}
   }
  ],
  "spacing": 71, "bounds": "flush",
  "resolve": {"scale": {"color": "independent", "shape": "independent"}}
 }
]
}
